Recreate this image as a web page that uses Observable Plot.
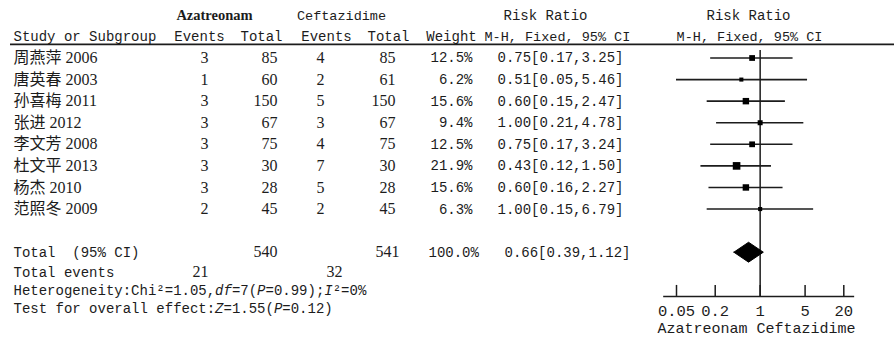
<!DOCTYPE html>
<html>
<head>
<meta charset="utf-8">
<script src="https://cdn.jsdelivr.net/npm/d3@7"></script>
<script src="https://cdn.jsdelivr.net/npm/@observablehq/plot@0.6"></script>
<style>
  html, body { margin: 0; padding: 0; background: #fff; }
  #chart svg { display: block; }
</style>
</head>
<body>
<div id="chart"></div>
<script>
// ---- data ----
const studies   = ["周燕萍 2006", "唐英春 2003", "孙喜梅 2011", "张进 2012", "李文芳 2008", "杜文平 2013", "杨杰 2010", "范照冬 2009"];
const azEvents  = [3, 1, 3, 3, 3, 3, 3, 2];
const azTotal   = [85, 60, 150, 67, 75, 30, 28, 45];
const cefEvents = [4, 2, 5, 3, 4, 7, 5, 2];
const cefTotal  = [85, 61, 150, 67, 75, 30, 28, 45];
const weights   = [12.5, 6.2, 15.6, 9.4, 12.5, 21.9, 15.6, 6.3];
const rr        = [0.75, 0.51, 0.60, 1.00, 0.75, 0.43, 0.60, 1.00];
const lower     = [0.17, 0.05, 0.15, 0.21, 0.17, 0.12, 0.16, 0.15];
const upper     = [3.25, 5.46, 2.47, 4.78, 3.24, 1.50, 2.27, 6.79];
const totalAzEvents = 21, totalCefEvents = 32;
const totalAz = 540, totalCef = 541, totalWeight = 100.0;
const totalRR = 0.66, totalLower = 0.39, totalUpper = 1.12;
const axisTicks = [0.05, 0.2, 1, 5, 20];
// footer texts as [text, italic] segments
const heterogeneityParts = [["Heterogeneity:Chi²=1.05,", false], ["df", true], ["=7(", false], ["P", true], ["=0.99);", false], ["I", true], ["²=0%", false]];
const overallTestParts = [["Test for overall effect:", false], ["Z", true], ["=1.55(", false], ["P", true], ["=0.12)", false]];

// ---- layout (row index units on y) ----
const ROW_TOTAL = 9, ROW_EVENTS = 9.93, ROW_HET = 10.77, ROW_TEST = 11.6;
const ROW_H1 = -1.97, ROW_H2 = -1.0, ROW_RULE = -0.63;
const AXIS_Y = 11.05, TICK_TOP = 10.54, TICKLAB_Y = 11.72, AXLAB_Y = 12.5;
const MONO_SIZE = 14, MONO_ADV = 0.6 * MONO_SIZE;

const table = studies.map((s, i) => ({
  study: s, azE: azEvents[i], azT: azTotal[i], cefE: cefEvents[i], cefT: cefTotal[i],
  weight: weights[i], rr: rr[i], lower: lower[i], upper: upper[i], row: i
}));

const mono = "'Liberation Mono', 'Noto Sans CJK SC', monospace";
const serif = "'Liberation Serif', 'Noto Sans CJK SC', serif";
const ink = "#1c1c1c";
const f2 = d3.format(".2f");
const ciText = (e, l, u) => `${f2(e)}[${f2(l)},${f2(u)}]`;

// left-anchored text helper (table columns positioned from frame left)
const col = (data, opts) => Plot.text(data, {frameAnchor: "left", fill: ink, ...opts});

// segmented mono line (for italic statistics symbols)
function segLine(parts, row, x0) {
  let n = 0;
  return parts.map(([t, it]) => {
    const m = col([t], {y: row, text: d => d, dx: x0 + n * MONO_ADV, textAnchor: "start",
      fontFamily: mono, fontSize: MONO_SIZE, fontStyle: it ? "italic" : "normal"});
    n += [...t].length;
    return m;
  });
}

const h = 0.46; // diamond half-height in row units
const diamond = [
  {x: totalLower, y: ROW_TOTAL},
  {x: totalRR, y: ROW_TOTAL - h},
  {x: totalUpper, y: ROW_TOTAL},
  {x: totalRR, y: ROW_TOTAL + h},
  {x: totalLower, y: ROW_TOTAL}
];

const chart = Plot.plot({
  width: 894,
  height: 338,
  margin: 0,
  style: {background: "#fff", color: ink},
  x: {type: "log", domain: [0.05, 20], range: [676, 843.3], axis: null},
  y: {domain: [0, 9], range: [57.5, 251.7], axis: null},
  r: {type: "sqrt", domain: [0, 21.9], range: [0, 4.3]},
  marks: [
    // header row 1
    col(["Azatreonam"], {y: ROW_H1, text: d => d, dx: 214, textAnchor: "middle", fontFamily: serif, fontWeight: "bold", fontSize: 14.5}),
    col(["Ceftazidime"], {y: ROW_H1, text: d => d, dx: 341, textAnchor: "middle", fontFamily: mono, fontSize: 13.5}),
    col(["Risk Ratio"], {y: ROW_H1, text: d => d, dx: 545, textAnchor: "middle", fontFamily: mono, fontSize: 14}),
    col(["Risk Ratio"], {y: ROW_H1, text: d => d, dx: 748, textAnchor: "middle", fontFamily: mono, fontSize: 14}),
    // header row 2
    col(["Study or Subgroup"], {y: ROW_H2, text: d => d, dx: 13, textAnchor: "start", fontFamily: mono, fontSize: 14}),
    col(["Events"], {y: ROW_H2, text: d => d, dx: 199, textAnchor: "middle", fontFamily: mono, fontSize: 14}),
    col(["Total"], {y: ROW_H2, text: d => d, dx: 261, textAnchor: "middle", fontFamily: mono, fontSize: 14}),
    col(["Events"], {y: ROW_H2, text: d => d, dx: 326, textAnchor: "middle", fontFamily: mono, fontSize: 14}),
    col(["Total"], {y: ROW_H2, text: d => d, dx: 388, textAnchor: "middle", fontFamily: mono, fontSize: 14}),
    col(["Weight"], {y: ROW_H2, text: d => d, dx: 451, textAnchor: "middle", fontFamily: mono, fontSize: 14}),
    col(["M-H, Fixed, 95% CI"], {y: ROW_H2, text: d => d, dx: 484, textAnchor: "start", fontFamily: mono, fontSize: 13.5}),
    col(["M-H, Fixed, 95% CI"], {y: ROW_H2, text: d => d, dx: 749, textAnchor: "middle", fontFamily: mono, fontSize: 13.5}),
    Plot.ruleY([ROW_RULE], {stroke: ink, strokeWidth: 1.6, insetLeft: 10}),

    // study rows
    col(table, {y: "row", text: "study", dx: 13, textAnchor: "start", fontFamily: serif, fontSize: 16}),
    col(table, {y: "row", text: "azE", dx: 204, textAnchor: "middle", fontFamily: serif, fontSize: 16}),
    col(table, {y: "row", text: "azT", dx: 277, textAnchor: "end", fontFamily: serif, fontSize: 16}),
    col(table, {y: "row", text: "cefE", dx: 320, textAnchor: "middle", fontFamily: serif, fontSize: 16}),
    col(table, {y: "row", text: "cefT", dx: 395, textAnchor: "end", fontFamily: serif, fontSize: 16}),
    col(table, {y: "row", text: d => d3.format(".1f")(d.weight) + "%", dx: 472, textAnchor: "end", fontFamily: mono, fontSize: 14}),
    col(table, {y: "row", text: d => ciText(d.rr, d.lower, d.upper), dx: 497, textAnchor: "start", fontFamily: mono, fontSize: 14}),

    // totals
    col(["Total  (95% CI)"], {y: ROW_TOTAL, text: d => d, dx: 13, textAnchor: "start", fontFamily: mono, fontSize: 14}),
    col([totalAz], {y: ROW_TOTAL, text: d => d, dx: 277, textAnchor: "end", fontFamily: serif, fontSize: 16}),
    col([totalCef], {y: ROW_TOTAL, text: d => d, dx: 399, textAnchor: "end", fontFamily: serif, fontSize: 16}),
    col([totalWeight], {y: ROW_TOTAL, text: d => d3.format(".1f")(d) + "%", dx: 428, textAnchor: "start", fontFamily: mono, fontSize: 14}),
    col([0], {y: ROW_TOTAL, text: () => ciText(totalRR, totalLower, totalUpper), dx: 504, textAnchor: "start", fontFamily: mono, fontSize: 14}),
    col(["Total events"], {y: ROW_EVENTS, text: d => d, dx: 13, textAnchor: "start", fontFamily: mono, fontSize: 14}),
    col([totalAzEvents], {y: ROW_EVENTS, text: d => d, dx: 200, textAnchor: "middle", fontFamily: serif, fontSize: 16}),
    col([totalCefEvents], {y: ROW_EVENTS, text: d => d, dx: 334, textAnchor: "middle", fontFamily: serif, fontSize: 16}),
    ...segLine(heterogeneityParts, ROW_HET, 13),
    ...segLine(overallTestParts, ROW_TEST, 13),

    // forest plot
    Plot.ruleX([1], {y1: -0.35, y2: AXIS_Y, stroke: ink, strokeWidth: 1.5}),
    Plot.ruleY(table, {y: "row", x1: "lower", x2: "upper", stroke: ink, strokeWidth: 1.6}),
    Plot.dot(table, {x: "rr", y: "row", r: "weight", symbol: "square", fill: "black", stroke: "none"}),
    Plot.line(diamond, {x: "x", y: "y", fill: "black", stroke: "black", strokeWidth: 1}),

    // axis
    Plot.ruleY([AXIS_Y], {x1: 0.0316, x2: 29.5, stroke: ink, strokeWidth: 1.6}),
    Plot.ruleX(axisTicks, {y1: TICK_TOP, y2: AXIS_Y, stroke: ink, strokeWidth: 1.5}),
    Plot.text(axisTicks, {x: d => d, y: TICKLAB_Y, text: d => String(d), fontFamily: mono, fontSize: 15.5, fill: ink}),
    col(["Azatreonam Ceftazidime"], {y: AXLAB_Y, text: d => d, dx: 756, textAnchor: "middle", fontFamily: mono, fontSize: 15})
  ]
});
document.getElementById("chart").append(chart);
</script>
</body>
</html>
